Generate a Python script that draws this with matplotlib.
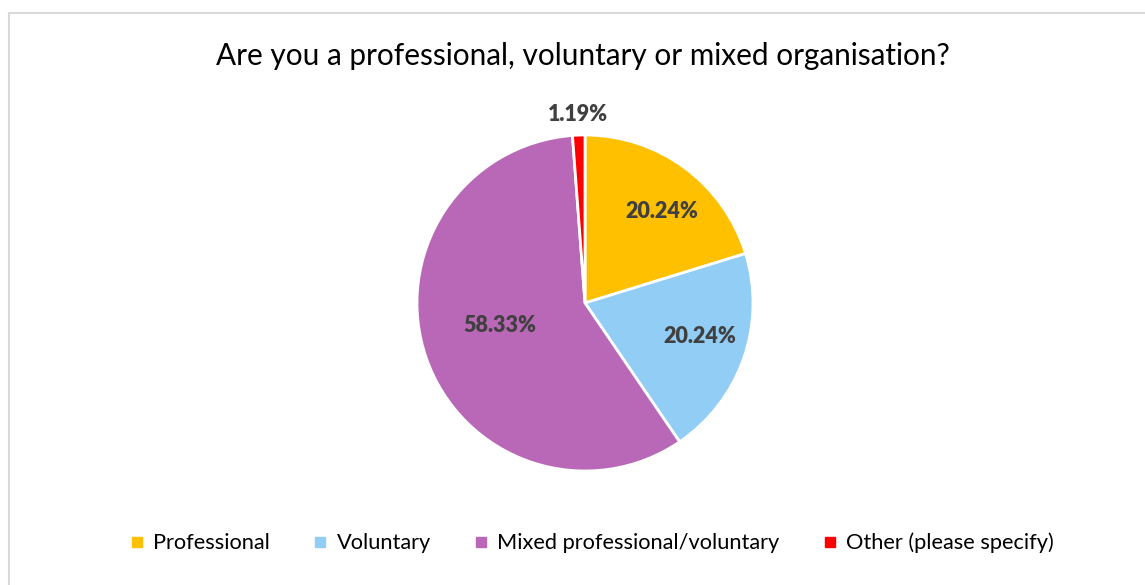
import numpy as np
import matplotlib
matplotlib.use("Agg")
import matplotlib.pyplot as plt
from matplotlib.lines import Line2D

categories = ["Professional", "Voluntary", "Mixed professional/voluntary", "Other (please specify)"]
percentages = [20.24, 20.24, 58.33, 1.19]
colors = ["#FFC000", "#92CDF5", "#B968B8", "#FF0000"]
title = "Are you a professional, voluntary or mixed organisation?"

plt.rcParams['font.family'] = ['Lato', 'DejaVu Sans']

W, H = 1145, 585
fig = plt.figure(figsize=(W / 100, H / 100), dpi=100)

# frame (left/top edges visible)
fig.add_artist(Line2D([8.5 / W, 8.5 / W], [0, 1 - 13 / H], transform=fig.transFigure, color="#D9D9D9", lw=1.5))
fig.add_artist(Line2D([8.5 / W, 1], [1 - 13 / H, 1 - 13 / H], transform=fig.transFigure, color="#D9D9D9", lw=1.5))

cx, cy, R = 585, 303, 168
half = 1.2 * R
ax = fig.add_axes([(cx - half) / W, (H - cy - half) / H, 2 * half / W, 2 * half / H])
wedges, _ = ax.pie(percentages, colors=colors, startangle=90, counterclock=False,
                   radius=1, wedgeprops=dict(edgecolor="white", linewidth=2))
ax.set_xlim(-1.2, 1.2)
ax.set_ylim(-1.2, 1.2)
ax.set_aspect("equal")
ax.axis("off")

# label placement (radial factor, angular offset in degrees)
label_r = [0.71, 0.71, 0.525, 1.12]
label_off = [-3.5, 2.8, -4.8, 0]
total = sum(percentages)
start = 90.0
for i, p in enumerate(percentages):
    span = 360.0 * p / total
    mid = start - span / 2
    start -= span
    a = np.deg2rad(mid + label_off[i])
    ax.text(label_r[i] * np.cos(a), label_r[i] * np.sin(a), f"{p:.2f}%",
            ha="center", va="center", fontsize=15.5, fontweight="heavy", color="#404040")

fig.text(583 / W, 1 - 56 / H, title, ha="center", va="center", fontsize=21.4, color="#000000")

handles = [Line2D([], [], marker="s", linestyle="none", markersize=7.5, markerfacecolor=c, markeredgecolor=c)
           for c in colors]
fig.legend(handles, categories, loc="center", bbox_to_anchor=(592 / W, 1 - 543 / H), ncol=4,
           frameon=False, fontsize=15.7, handlelength=0.6, handletextpad=0.45, columnspacing=2.0)

fig.savefig("out.png", dpi=100, facecolor="white")
